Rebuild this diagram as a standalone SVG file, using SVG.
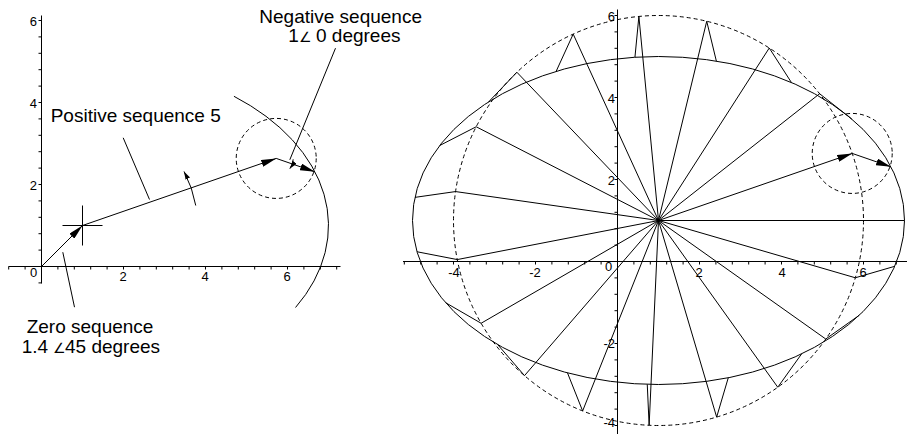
<svg xmlns="http://www.w3.org/2000/svg" width="907" height="434" viewBox="0 0 907 434">
<style>
.ln{fill:none;stroke:#000;stroke-width:1}
.ds{fill:none;stroke:#000;stroke-width:1;stroke-dasharray:4 3}
.lbl{font-family:"Liberation Sans",Arial,sans-serif;font-size:19px;fill:#000}
.tk{font-family:"Liberation Sans",Arial,sans-serif;font-size:13px;fill:#000}
.ang{font-family:"DejaVu Sans","Liberation Sans",sans-serif;font-size:14px}
</style>
<defs>
<marker id="ah" viewBox="0 0 15 7" refX="15" refY="3.5" markerWidth="15" markerHeight="7" markerUnits="userSpaceOnUse" orient="auto"><path d="M0 0L15 3.5L0 7z" fill="#000"/></marker>
<marker id="ahs" viewBox="0 0 8 5" refX="8" refY="2.5" markerWidth="8" markerHeight="5" markerUnits="userSpaceOnUse" orient="auto"><path d="M0 0L8 2.5L0 5z" fill="#000"/></marker>
</defs>
<g id="left-plot" transform="translate(0.5,0.5)">
<g id="left-axes">
<path class="ln" d="M8 266H340M41 15V283"/>
<path class="ln" d="M8.2 266v3m16.4 -3v3m16.4 -3v3m16.4 -3v3m16.4 -3v3m16.4 -3v3m16.4 -3v3m16.4 -3v3m16.4 -3v3m16.4 -3v3m16.4 -3v3m16.4 -3v3m16.4 -3v3m16.4 -3v3m16.4 -3v3m16.4 -3v3m16.4 -3v3m16.4 -3v3m16.4 -3v3m16.4 -3v3m16.4 -3v3"/>
<path class="ln" d="M41 282.4h-3m3 -16.4h-3m3 -16.4h-3m3 -16.4h-3m3 -16.4h-3m3 -16.4h-3m3 -16.4h-3m3 -16.4h-3m3 -16.4h-3m3 -16.4h-3m3 -16.4h-3m3 -16.4h-3m3 -16.4h-3m3 -16.4h-3m3 -16.4h-3m3 -16.4h-3m3 -16.4h-3"/>
</g>
<g id="left-locus">
<path class="ln" d="M295.04 307A246 164 0 0 0 233.45 95.77"/>
<circle class="ds" cx="275.72" cy="157.92" r="40"/>
</g>
<g id="left-connectors">
<path class="ln" d="M62 225H102M82 205V245"/>
<path class="ln" d="M41 266L82 225" marker-end="url(#ah)"/>
<path class="ln" d="M82 225L275.72 157.92" marker-end="url(#ah)"/>
<path class="ln" d="M275.72 157.92L314.46 171.33" marker-end="url(#ah)"/>
<path class="ln" d="M195.25 205.03A115 115 0 0 0 183.54 171.01" marker-end="url(#ahs)"/>
<path class="ln" d="M292.7 158.81A17 17 0 0 1 289.3 168.15" marker-end="url(#ahs)"/>
<path class="ln" d="M122.7 137.3L149 199M335 47.7L289.3 159.3M62.3 251.7L74 306.7"/>
</g>
</g>
<g id="left-labels">
<text class="tk" x="37" y="26" text-anchor="end">6</text>
<text class="tk" x="37" y="108" text-anchor="end">4</text>
<text class="tk" x="37" y="190" text-anchor="end">2</text>
<text class="tk" x="30" y="277">0</text>
<text class="tk" x="123" y="281" text-anchor="middle">2</text>
<text class="tk" x="205" y="281" text-anchor="middle">4</text>
<text class="tk" x="287" y="281" text-anchor="middle">6</text>
<text class="lbl" x="259.3" y="22.5">Negative sequence</text>
<text class="lbl" y="41.7"><tspan x="288.3">1</tspan><tspan class="ang" x="299">∠</tspan><tspan x="316">0 degrees</tspan></text>
<text class="lbl" x="50.7" y="122">Positive sequence 5</text>
<text class="lbl" x="26.7" y="333.3">Zero sequence</text>
<text class="lbl" y="353.3"><tspan x="21.7">1.4</tspan><tspan class="ang" x="53">∠</tspan><tspan x="65">45 degrees</tspan></text>
</g>
<g id="right-plot" transform="translate(0,0.5)">
<g id="right-axes">
<path class="ln" d="M403 261H907M617.5 9V434"/>
<path class="ln" d="M404.3 261v3m16.4 -3v3m16.4 -3v3m16.4 -3v3m16.4 -3v3m16.4 -3v3m16.4 -3v3m16.4 -3v3m16.4 -3v3m16.4 -3v3m16.4 -3v3m16.4 -3v3m16.4 -3v3m16.4 -3v3m16.4 -3v3m16.4 -3v3m16.4 -3v3m16.4 -3v3m16.4 -3v3m16.4 -3v3m16.4 -3v3m16.4 -3v3m16.4 -3v3m16.4 -3v3m16.4 -3v3m16.4 -3v3m16.4 -3v3m16.4 -3v3m16.4 -3v3m16.4 -3v3m16.4 -3v3"/>
<path class="ln" d="M617.5 425h-3m3 -16.4h-3m3 -16.4h-3m3 -16.4h-3m3 -16.4h-3m3 -16.4h-3m3 -16.4h-3m3 -16.4h-3m3 -16.4h-3m3 -16.4h-3m3 -16.4h-3m3 -16.4h-3m3 -16.4h-3m3 -16.4h-3m3 -16.4h-3m3 -16.4h-3m3 -16.4h-3m3 -16.4h-3m3 -16.4h-3m3 -16.4h-3m3 -16.4h-3m3 -16.4h-3m3 -16.4h-3m3 -16.4h-3m3 -16.4h-3m3 -16.4h-3"/>
</g>
<g id="right-locus">
<ellipse class="ln" cx="658.5" cy="220" rx="246" ry="164"/>
<circle class="ds" cx="658.5" cy="220" r="205"/>
<circle class="ds" cx="852.22" cy="152.93" r="40"/>
</g>
<g id="right-connectors">
<path class="ln" d="M658.5 220L904.5 220"/>
<path class="ln" d="M658.5 220L819.61 93.23L851.83 118.59"/>
<path class="ln" d="M658.5 220L769.26 47.5L791.41 82"/>
<path class="ln" d="M658.5 220L706.73 20.75L716.37 60.6"/>
<path class="ln" d="M658.5 220L638.88 15.94L634.95 56.75"/>
<path class="ln" d="M658.5 220L573.19 33.59L556.13 70.88"/>
<path class="ln" d="M658.5 220L516.9 71.75L488.58 101.4"/>
<path class="ln" d="M658.5 220L476.19 126.26L439.73 145.01"/>
<path class="ln" d="M658.5 220L455.55 191.07L414.96 196.86"/>
<path class="ln" d="M658.5 220L457.26 259.07L417.01 251.25"/>
<path class="ln" d="M658.5 220L481.12 322.76L445.64 302.21"/>
<path class="ln" d="M658.5 220L524.5 375.14L497.7 344.12"/>
<path class="ln" d="M658.5 220L582.64 410.46L567.47 372.36"/>
<path class="ln" d="M658.5 220L649.13 424.79L647.26 383.83"/>
<path class="ln" d="M658.5 220L716.65 416.58L728.28 377.26"/>
<path class="ln" d="M658.5 220L777.77 386.73L801.62 353.39"/>
<path class="ln" d="M658.5 220L825.76 338.53L859.21 314.82"/>
<path class="ln" d="M658.5 220L855.33 277.28L894.7 265.82"/>
<path class="ln" d="M658.5 220L852.22 152.93" marker-end="url(#ah)"/>
<path class="ln" d="M852.22 152.93L890.96 166.34" marker-end="url(#ah)"/>
</g>
</g>
<g id="right-labels">
<text class="tk" x="615" y="21" text-anchor="end">6</text>
<text class="tk" x="615" y="103" text-anchor="end">4</text>
<text class="tk" x="615" y="185" text-anchor="end">2</text>
<text class="tk" x="615" y="348" text-anchor="end">-2</text>
<text class="tk" x="615" y="427" text-anchor="end">-4</text>
<text class="tk" x="454" y="277" text-anchor="middle">-4</text>
<text class="tk" x="535" y="277" text-anchor="middle">-2</text>
<text class="tk" x="605" y="271">0</text>
<text class="tk" x="699" y="277" text-anchor="middle">2</text>
<text class="tk" x="782" y="277" text-anchor="middle">4</text>
<text class="tk" x="863" y="277" text-anchor="middle">6</text>
</g>
</svg>
